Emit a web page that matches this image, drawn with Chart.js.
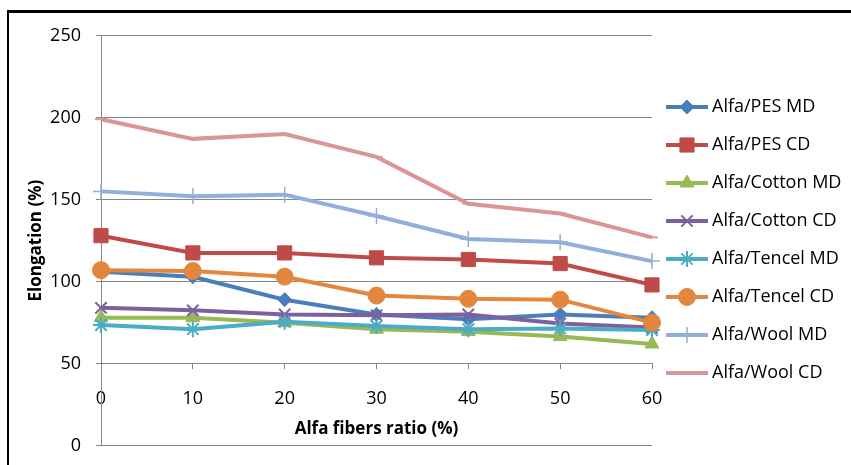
<!DOCTYPE html>
<html>

<head>
    <meta charset="utf-8">
    <script src="https://cdn.jsdelivr.net/npm/chart.js"></script>
    <title>Elongation</title>
    <style>
        body {
            margin: 0;
            background: #fff;
        }

        .wrap {
            position: relative;
            width: 851px;
            height: 465px;
            overflow: hidden;
        }

        .frame {
            position: absolute;
            left: 7px;
            top: 10px;
            width: 900px;
            height: 500px;
            border-top: 3px solid #000;
            border-left: 2px solid #000;
        }

        canvas {
            position: absolute;
            left: 0;
            top: 0;
        }
    </style>
</head>

<body>
    <div class="wrap">
        <div class="frame"></div>
        <canvas id="chart" width="851" height="465"></canvas>
    </div>
    <script>
        const ratios = ['0', '10', '20', '30', '40', '50', '60']
        const seriesNames = ['Alfa/PES MD', 'Alfa/PES CD', 'Alfa/Cotton MD', 'Alfa/Cotton CD',
            'Alfa/Tencel MD', 'Alfa/Tencel CD', 'Alfa/Wool MD', 'Alfa/Wool CD']

        const pesMD = [106, 103, 89, 80, 77, 80, 78]
        const pesCD = [128, 117.5, 117.5, 114.5, 113.5, 111, 98]
        const cottonMD = [78, 78, 75, 71, 69.5, 66.5, 62]
        const cottonCD = [84, 82.5, 80, 79.5, 80, 74.5, 72]
        const tencelMD = [73.5, 71, 75.5, 73, 71, 71.5, 70.5]
        const tencelCD = [107, 106.5, 103, 91.5, 89.5, 89, 75]
        const woolMD = [155, 152, 153, 140, 126, 124, 112.5]
        const woolCD = [199, 187, 190, 176, 147.5, 141.5, 127]

        const yTicks = [0, 50, 100, 150, 200, 250]

        const series = [pesMD, pesCD, cottonMD, cottonCD, tencelMD, tencelCD, woolMD, woolCD]
        const colors = ['#4A7EBB', '#BE4B48', '#98B954', '#7D60A0', '#4BACC6', '#E2873D', '#92AEDA', '#D99694']
        const markers = ['rectRot', 'rect', 'triangle', 'crossRot', 'star', 'circle', 'cross', 'line']
        const markerSizes = [7, 10, 8, 8, 8, 8.5, 8, 6]
        const markerBorders = [1, 1, 1, 2, 2, 1, 1.5, 2]

        const font = "'Open Sans', 'Liberation Sans', sans-serif"
        Chart.defaults.font.family = font
        Chart.defaults.color = '#000'

        // legend drawn by hand: line + marker + label, Excel style
        const lineLegend = {
            id: 'lineLegend',
            afterDraw(chart) {
                const ctx = chart.ctx
                ctx.save()
                chart.data.datasets.forEach(function (ds, i) {
                    const y = 107 + i * 38
                    ctx.strokeStyle = ds.borderColor
                    ctx.fillStyle = ds.backgroundColor
                    ctx.lineWidth = ds.borderWidth
                    ctx.beginPath()
                    ctx.moveTo(666, y)
                    ctx.lineTo(708, y)
                    ctx.stroke()
                    ctx.lineWidth = ds.pointBorderWidth
                    Chart.helpers.drawPoint(ctx, {
                        pointStyle: ds.pointStyle,
                        radius: ds.pointRadius,
                        borderWidth: ds.pointBorderWidth,
                        rotation: 0
                    }, 687, y)
                    ctx.fillStyle = '#000'
                    ctx.font = '18px ' + font
                    ctx.textAlign = 'left'
                    ctx.textBaseline = 'middle'
                    ctx.fillText(ds.label, 712, y)
                })
                ctx.restore()
            }
        }

        const ctx = document.getElementById('chart')
        new Chart(ctx, {
            type: 'line',
            data: {
                labels: ratios,
                datasets: series.map(function (values, i) {
                    return {
                        label: seriesNames[i],
                        data: values,
                        borderColor: colors[i],
                        backgroundColor: colors[i],
                        borderWidth: 4,
                        pointStyle: markers[i],
                        pointRadius: markerSizes[i],
                        pointHoverRadius: markerSizes[i],
                        pointBorderWidth: markerBorders[i],
                        pointBorderColor: colors[i],
                        pointBackgroundColor: colors[i],
                        tension: 0,
                        fill: false,
                        clip: false,
                        order: series.length - i
                    }
                })
            },
            options: {
                responsive: false,
                animation: false,
                events: [],
                layout: {
                    padding: { left: 0, top: 35.5, right: 199, bottom: 19.3 }
                },
                plugins: {
                    legend: { display: false },
                    tooltip: { enabled: false }
                },
                scales: {
                    x: {
                        position: { y: 50 },
                        offset: false,
                        grid: {
                            drawOnChartArea: false,
                            drawTicks: true,
                            tickLength: 5,
                            color: '#868686'
                        },
                        border: { color: '#868686' },
                        ticks: { font: { size: 18 }, padding: 19, maxRotation: 0 },
                        title: {
                            display: true,
                            text: 'Alfa fibers ratio (%)',
                            font: { size: 17, weight: 'bold' },
                            padding: { top: 0, bottom: 0 }
                        },
                        afterFit: function (scale) {
                            scale.height = 76
                        }
                    },
                    y: {
                        min: 0,
                        max: 250,
                        afterBuildTicks: function (scale) {
                            scale.ticks = yTicks.map(v => ({ value: v }))
                        },
                        grid: { color: '#868686', tickLength: 5 },
                        border: { color: '#868686' },
                        ticks: { font: { size: 18 }, padding: 15 },
                        title: {
                            display: true,
                            text: 'Elongation (%)',
                            font: { size: 17, weight: 'bold' },
                            padding: { top: 26, bottom: 0 }
                        },
                        afterFit: function (scale) {
                            scale.width = 101
                            scale.paddingTop = 0
                            scale.paddingBottom = 0
                        }
                    }
                }
            },
            plugins: [lineLegend]
        })
    </script>
</body>

</html>
